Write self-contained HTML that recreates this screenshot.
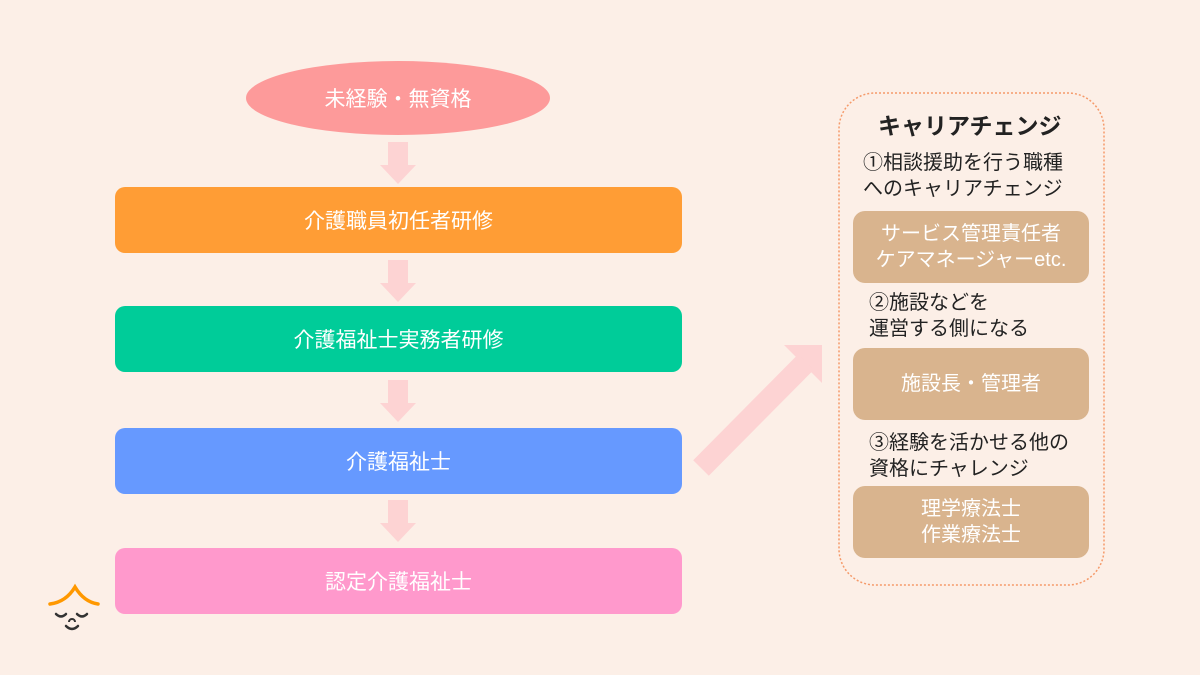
<!DOCTYPE html>
<html><head><meta charset="utf-8"><style>
body{margin:0;width:1200px;height:675px;background:#fcefe7;position:relative;overflow:hidden;font-family:"Liberation Sans","Noto Sans CJK JP",sans-serif}
.b{position:absolute;left:115px;width:567px;height:66px;border-radius:10px;color:#fff;font-size:21px;display:flex;align-items:center;justify-content:center}
.t{position:absolute;left:853px;width:236px;height:72px;border-radius:12px;background:#d9b48e;color:#fff;font-size:20px;display:flex;align-items:center;justify-content:center;text-align:center;line-height:26px}
.l{position:absolute;font-size:20px;color:#222;line-height:26px}
</style></head><body>
<svg width="1200" height="675" style="position:absolute;left:0;top:0">
<ellipse cx="398" cy="98" rx="152" ry="37" fill="#fd9a9a"/>
<g fill="#fdd3d3">
<polygon points="388,142 408,142 408,165 416,165 398,184 380,165 388,165"/>
<polygon points="388,260 408,260 408,283 416,283 398,302 380,283 388,283"/>
<polygon points="388,380 408,380 408,403 416,403 398,422 380,403 388,403"/>
<polygon points="388,500 408,500 408,523 416,523 398,542 380,523 388,523"/>
<polygon points="784,345 822,345 822,383"/>
</g>
<line x1="701" y1="468" x2="806" y2="362" stroke="#fdd3d3" stroke-width="22"/>
<rect x="839" y="93" width="265" height="492" rx="36" fill="none" stroke="#f59a6a" stroke-width="1.5" stroke-dasharray="2,2"/>
<path d="M50 604 Q66 602 75 587 Q84 602 98 604" fill="none" stroke="#ff9800" stroke-width="3.5" stroke-linecap="round"/>
<path d="M56 614 Q61 619 66 614 M77 614 Q82 619 87 614 M66 626 Q72 632 78 626" fill="none" stroke="#333" stroke-width="2.5" stroke-linecap="round"/>
<path d="M69 622 a3 3 0 0 1 6 0" fill="none" stroke="#333" stroke-width="2"/>
</svg>
<div style="position:absolute;left:246px;top:61px;width:304px;height:74px;display:flex;align-items:center;justify-content:center;color:#fff;font-size:21px">未経験・無資格</div>
<div class="b" style="top:187px;background:#ff9d35">介護職員初任者研修</div>
<div class="b" style="top:306px;background:#00cc99">介護福祉士実務者研修</div>
<div class="b" style="top:428px;background:#6699ff">介護福祉士</div>
<div class="b" style="top:548px;background:#ff99cc">認定介護福祉士</div>
<div class="l" style="left:878px;top:113px;font-size:23px;font-weight:bold">キャリアチェンジ</div>
<div class="l" style="left:863px;top:150px">①相談援助を行う職種<br>へのキャリアチェンジ</div>
<div class="t" style="top:211px">サービス管理責任者<br>ケアマネージャーetc.</div>
<div class="l" style="left:869px;top:290px">②施設などを<br>運営する側になる</div>
<div class="t" style="top:348px">施設長・管理者</div>
<div class="l" style="left:869px;top:430px">③経験を活かせる他の<br>資格にチャレンジ</div>
<div class="t" style="top:486px">理学療法士<br>作業療法士</div>
</body></html>
